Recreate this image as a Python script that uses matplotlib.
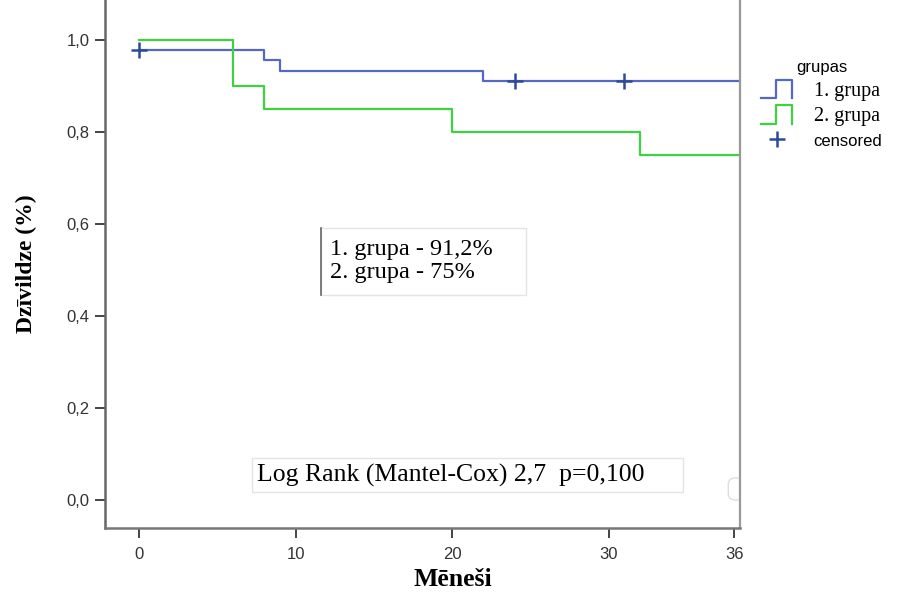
import matplotlib
matplotlib.use("Agg")
import matplotlib.pyplot as plt
from matplotlib.lines import Line2D
from matplotlib.legend_handler import HandlerBase
from matplotlib.patches import FancyBboxPatch, Rectangle

# Kaplan-Meier survival curves for the two groups
group1_times = [0, 8, 9, 22]
group1_surv = [0.978, 0.956, 0.933, 0.911]
group1_censored = [0, 24, 31]

group2_times = [0, 6, 8, 20, 32]
group2_surv = [1.0, 0.90, 0.85, 0.80, 0.75]

followup_end = 38.6
group_labels = ["1. grupa", "2. grupa"]
summary_lines = ["1. grupa - 91,2%", "2. grupa - 75%"]
logrank_text = "Log Rank (Mantel-Cox) 2,7  p=0,100"

x_ticks = [0, 10, 20, 30, 38]
x_tick_labels = ["0", "10", "20", "30", "36"]
y_ticks = [0.0, 0.2, 0.4, 0.6, 0.8, 1.0]
y_tick_labels = ["0,0", "0,2", "0,4", "0,6", "0,8", "1,0"]

blue = "#5468c4"
blue_dark = "#2c4a9c"
green = "#3fd13f"
serif = "Liberation Serif"
sans = "Liberation Sans"


def km_steps(times, surv, end):
    return times + [end], surv + [surv[-1]]


class StepHandler(HandlerBase):
    """Legend key drawn as a small step, like SPSS survival plots."""
    def create_artists(self, legend, orig_handle, xdescent, ydescent,
                       width, height, fontsize, trans):
        x0 = -xdescent
        y0, y1 = -ydescent - height * 0.2, -ydescent + height * 1.1
        xm = x0 + width * 0.45
        xr = x0 + width * 0.95
        line = Line2D([x0, xm, xm, xr, xr], [y0, y0, y1, y1, y0],
                      color=orig_handle.get_color(), lw=1.6, transform=trans)
        return [line]


fig = plt.figure(figsize=(9.04, 5.93), dpi=100)
ax = fig.add_axes([0.116, 0.1096, 0.703, 0.8904])

bx, by = km_steps(group1_times, group1_surv, followup_end)
gx, gy = km_steps(group2_times, group2_surv, followup_end)
l1, = ax.step(bx, by, where="post", color=blue, lw=1.6)
l2, = ax.step(gx, gy, where="post", color=green, lw=1.6)

cens_y = [group1_surv[[i for i, t in enumerate(group1_times) if t <= c][-1]]
          for c in group1_censored]
cm, = ax.plot(group1_censored, cens_y, linestyle="none", marker="+",
              markersize=11, mew=1.8, color=blue_dark)

ax.set_xlim(-2.17, 38.4)
ax.set_ylim(-0.061, 1.087)
ax.set_xticks(x_ticks)
ax.set_xticklabels(x_tick_labels, fontfamily=sans, fontsize=12, color="#333333")
ax.set_yticks(y_ticks)
ax.set_yticklabels(y_tick_labels, fontfamily=sans, fontsize=12, color="#333333")
ax.tick_params(direction="out", length=7, width=1.4, color="#444444")
ax.tick_params(axis="x", pad=7)
ax.tick_params(axis="y", pad=4)

ax.spines["top"].set_visible(False)
ax.spines["right"].set_color("#999999")
ax.spines["right"].set_linewidth(1.6)
ax.spines["left"].set_color("#666666")
ax.spines["bottom"].set_color("#777777")
for s in ("left", "bottom"):
    ax.spines[s].set_linewidth(1.8)

ax.set_xlabel("Mēneši", fontfamily=serif, fontweight="bold", fontsize=18.5)
ax.xaxis.set_label_coords(0.548, -0.075)
ax.set_ylabel("Dzīvildze (%)", fontfamily=serif, fontweight="bold", fontsize=17, labelpad=21)

# summary box with final survival
ax.add_patch(Rectangle((11.6, 0.446), 13.1, 0.145, fc="white", ec="#e4e4e4", lw=1))
ax.plot([11.65, 11.65], [0.446, 0.591], color="#666666", lw=1.2)
ax.text(12.2, 0.519, "\n".join(summary_lines), fontfamily=serif, fontsize=17.5,
        va="center", ha="left", linespacing=1.12)

# log-rank test result
ax.add_patch(Rectangle((7.22, 0.017), 27.5, 0.074, fc="white", ec="#e4e4e4", lw=1))
ax.text(7.55, 0.054, logrank_text, fontfamily=serif, fontsize=18.5,
        va="center", ha="left")

ax.add_patch(FancyBboxPatch((0.981, 0.053), 0.06, 0.042,
                            boxstyle="round,pad=0,rounding_size=0.012",
                            transform=ax.transAxes, fc="white", ec="#dddddd",
                            lw=1, clip_on=True))

leg = fig.legend([l1, l2, cm], group_labels + ["censored"],
                 handler_map={l1: StepHandler(), l2: StepHandler()},
                 title="grupas", loc="upper left", bbox_to_anchor=(0.842, 0.898),
                 frameon=False, fontsize=14.5, handlelength=1.6,
                 handletextpad=1.0, labelspacing=0.3, borderaxespad=0,
                 borderpad=0)
leg.get_title().set_fontfamily(sans)
leg.get_title().set_fontsize(12)
for t in leg.get_texts()[:2]:
    t.set_fontfamily(serif)
leg.get_texts()[2].set_fontfamily(sans)
leg.get_texts()[2].set_fontsize(12)

fig.savefig("out.png", dpi=100)
